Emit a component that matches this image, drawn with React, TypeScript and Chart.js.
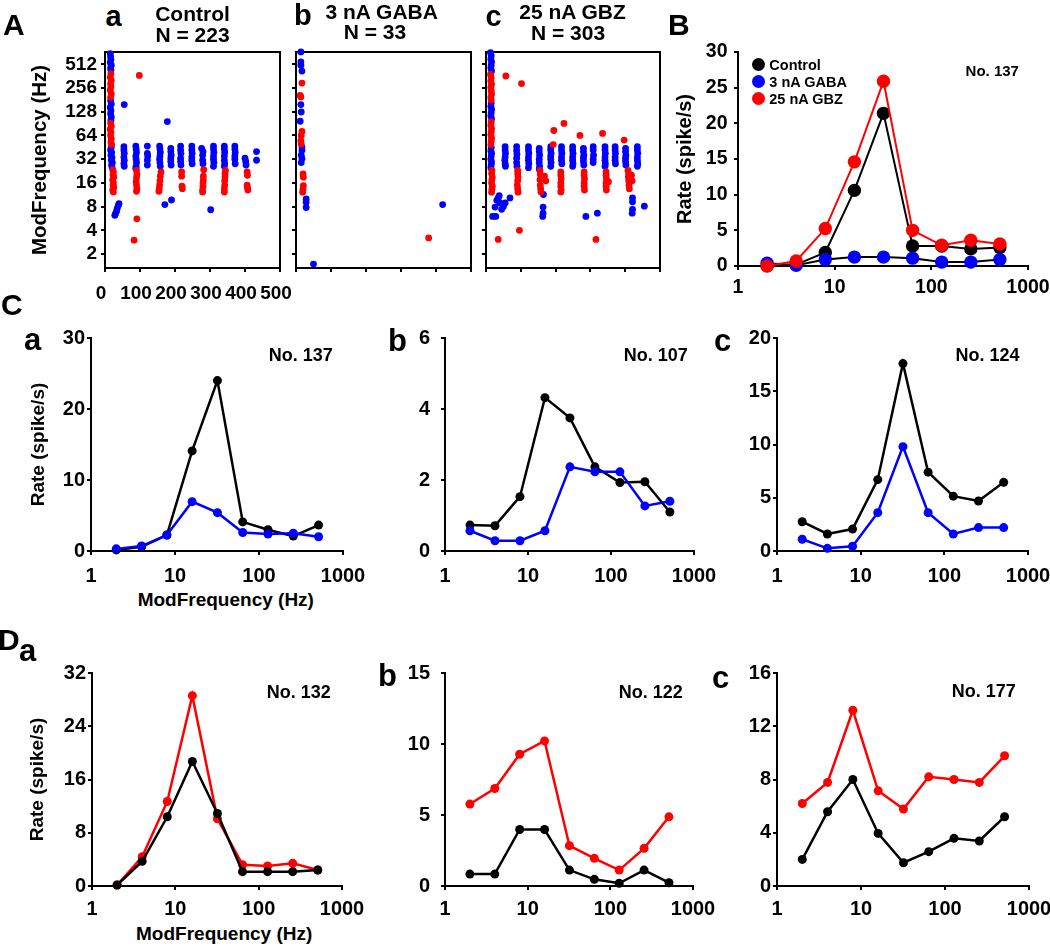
import React, { useEffect, useRef } from 'react';
import { Chart, registerables } from 'chart.js';

Chart.register(...registerables);

const FONT = '"Liberation Sans", Arial, Helvetica, sans-serif';
const BLUE = '#0000ff';
const RED = '#ff0000';
const BLACK = '#000000';

// ---------- data ----------
const modFreqs = [2, 4, 8, 16, 32, 64, 128, 256, 512];
const logFreqTicks = [1, 10, 100, 1000];
const modFreqTicksA = [2, 4, 8, 16, 32, 64, 128, 256, 512];
const unitTicksA = [0, 100, 200, 300, 400, 500];

// Panel B (No. 137)
const bControl = [0.05, 0.2, 1.9, 10.6, 21.4, 2.8, 2.8, 2.4, 2.6];
const bGaba = [0.4, 0.1, 0.9, 1.25, 1.25, 1.1, 0.55, 0.55, 0.9];
const bGbz = [0, 0.7, 5.25, 14.6, 25.9, 5.0, 2.9, 3.6, 3.1];

// Panel C
const caControl = [0.15, 0.6, 2.25, 14.1, 24.0, 4.1, 3.0, 2.1, 3.65];
const caGaba = [0.3, 0.7, 2.25, 6.95, 5.4, 2.6, 2.4, 2.5, 2.0];
const cbControl = [0.73, 0.71, 1.53, 4.32, 3.75, 2.37, 1.93, 1.95, 1.1];
const cbGaba = [0.57, 0.29, 0.29, 0.57, 2.37, 2.23, 2.23, 1.27, 1.4];
const ccControl = [2.75, 1.6, 2.06, 6.7, 17.6, 7.4, 5.15, 4.7, 6.45];
const ccGaba = [1.1, 0.25, 0.45, 3.6, 9.8, 3.6, 1.6, 2.2, 2.2];

// Panel D
const daControl = [0.15, 3.7, 10.4, 18.7, 10.9, 2.15, 2.15, 2.15, 2.4];
const daGbz = [0.15, 4.4, 12.7, 28.6, 10.1, 3.2, 3.0, 3.4, 2.4];
const dbControl = [0.84, 0.84, 3.98, 3.98, 1.12, 0.47, 0.19, 1.12, 0.23];
const dbGbz = [5.77, 6.87, 9.28, 10.22, 2.84, 1.95, 1.12, 2.65, 4.87];
const dcControl = [2.0, 5.58, 8.0, 3.95, 1.75, 2.58, 3.58, 3.38, 5.2];
const dcGbz = [6.2, 7.78, 13.2, 7.15, 5.78, 8.2, 8.0, 7.78, 9.78];

// Panel A scatter: [unit number, best ModFrequency (Hz)]
const aaBlue: [number, number][] = [
  [15, 700], [16, 640], [17, 590], [15, 540], [18, 500], [16, 460], [17, 430],
  [16, 178], [18, 160], [15, 145], [17, 132], [16, 120], [18, 110], [17, 100],
  [18, 45], [16, 42], [19, 39], [17, 36], [20, 33.5], [18, 31], [21, 29], [19, 27], [20, 25.5],
  [28, 6.2], [30, 6.5], [33, 7], [35, 7.6], [38, 8.3], [40, 8.7],
  [55, 158], [178, 96], [171, 8.5], [190, 9.7], [302, 7.3],
  [54, 46], [54, 42], [55, 38], [54, 34], [55, 31], [54, 28], [55, 26],
  [88, 47], [89, 43], [90, 39], [88, 35], [89, 32], [90, 29], [89, 26], [88, 24.5],
  [121, 47], [121, 38], [122, 35], [121, 31], [121, 27],
  [156, 47], [157, 43], [158, 39], [157, 35], [156, 32], [157, 29], [158, 26],
  [188, 44], [188, 40], [189, 36], [188, 33], [188, 30], [189, 27],
  [216, 47], [216, 42], [217, 38], [216, 33], [216, 30], [217, 27],
  [248, 47], [248, 42], [249, 38], [248, 34], [248, 31], [249, 28],
  [276, 44], [280, 40], [279, 36], [279, 31], [280, 28],
  [310, 47], [310, 43], [311, 39], [310, 35], [310, 32], [311, 29], [310, 26],
  [341, 47], [341, 43], [342, 39], [341, 35], [341, 31], [342, 28], [341, 26],
  [371, 47], [371, 43], [372, 39], [371, 35], [371, 32], [372, 28],
  [400, 33], [402, 30], [403, 27],
  [433, 40], [433, 31],
];
const aaRed: [number, number][] = [
  [17, 390], [15, 350], [18, 320], [16, 290], [17, 265], [15, 240], [18, 215], [16, 195],
  [16, 92], [18, 84], [15, 77], [17, 70], [16, 64], [18, 58], [17, 53], [19, 49],
  [22, 23.5], [24, 22], [23, 20.5], [25, 19], [22, 17.5], [24, 16], [23, 15], [25, 14], [22, 13], [24, 12.3],
  [98, 370], [91, 5.6], [83, 3.0],
  [90, 23], [91, 20.5], [90, 18.5], [89, 16.5], [90, 15], [91, 13.5], [90, 12.5],
  [160, 22], [158, 19.5], [157, 17], [156, 15], [155, 13.5], [154, 12.5],
  [219, 22], [219, 19.5], [220, 14.5], [221, 13.5],
  [282, 23.5], [281, 19.5], [281, 17.5], [280, 16], [280, 14.5], [279, 13], [279, 12.3],
  [344, 23], [343, 21], [343, 19], [342, 17], [342, 15], [341, 13.5], [341, 12.3],
  [406, 22], [407, 20], [406, 15], [407, 14], [408, 13],
];
const abBlue: [number, number][] = [
  [14, 735], [14, 550], [14, 500], [17, 420], [14, 158], [15, 127], [12, 97],
  [17, 45.6], [17, 41.5], [15, 36], [17, 32.5], [15, 29],
  [29, 10], [29, 9.1], [29, 7.8], [50, 1.49], [419, 8.5],
];
const abRed: [number, number][] = [
  [17, 296], [12, 207], [14, 197], [17, 72], [15, 64], [14, 55], [15, 50],
  [20, 20.8], [21, 18.9], [21, 14.8], [20, 13.4], [19, 12.2], [379, 3.2],
];
const acBlue: [number, number][] = [
  [13, 720], [15, 660], [14, 600], [16, 550], [15, 500], [14, 460], [16, 420],
  [15, 165], [14, 150], [16, 137], [15, 125], [14, 114], [16, 104],
  [15, 45], [14, 41], [16, 38], [15, 35], [14, 32], [16, 29.5], [15, 27], [14, 25],
  [19, 6.0], [28, 6.0], [26, 7.9], [31, 9.6], [35, 10.3], [38, 11], [40, 8.9], [45, 7.4], [50, 8], [55, 8.9], [69, 10.3],
  [165, 11.4], [164, 7.9], [164, 6.6], [163, 6.0], [287, 6.0], [320, 6.6],
  [421, 10.3], [421, 9.2], [421, 7.4], [420, 6.6], [455, 8.1],
  [55, 46], [55, 42], [56, 38], [55, 34], [54, 31], [55, 28], [56, 26],
  [88, 46], [88, 41], [89, 37], [88, 33], [88, 29], [89, 26],
  [122, 46], [122, 42], [123, 38], [122, 34], [122, 31], [123, 28], [122, 25],
  [153, 44], [153, 40], [154, 36], [153, 32], [153, 29], [154, 26], [153, 24],
  [186, 46], [186, 42], [187, 38], [186, 35], [186, 32], [187, 29], [186, 26],
  [217, 46], [217, 42], [218, 38], [217, 34], [217, 31], [218, 28],
  [249, 46], [249, 42], [250, 38], [249, 34], [249, 31], [250, 28], [249, 26],
  [280, 44], [280, 40], [281, 36], [280, 33], [280, 30], [281, 27],
  [308, 46], [308, 42], [309, 36], [308, 32], [308, 29],
  [342, 46], [342, 42], [343, 38], [342, 34], [342, 31], [343, 28], [342, 26],
  [371, 46], [371, 42], [372, 38], [371, 34], [371, 31], [372, 28],
  [401, 44], [401, 40], [402, 36], [401, 33], [401, 30], [402, 27],
  [435, 46], [435, 42], [436, 38], [435, 34], [435, 31], [436, 28], [435, 26],
];
const acRed: [number, number][] = [
  [13, 380], [15, 345], [14, 315], [16, 285], [14, 260], [15, 235], [16, 215], [14, 195], [15, 180],
  [15, 95], [14, 86], [16, 78], [15, 71], [14, 65], [16, 59], [15, 54], [14, 49],
  [17, 23], [16, 21], [18, 19], [17, 17.5], [16, 16], [18, 14.5], [17, 13.3], [16, 12.2],
  [57, 364], [102, 292], [195, 74], [224, 91], [270, 64], [335, 68], [397, 56], [193, 49],
  [35, 3.07], [96, 4.0], [316, 3.07],
  [91, 23], [91, 21], [92, 19], [91, 17], [90, 15], [91, 13.5], [92, 12.2],
  [155, 23], [156, 20.5], [160, 19], [168, 19.5], [172, 17], [155, 17.5], [156, 15], [157, 13.5], [158, 12.3],
  [215, 22], [215, 20], [216, 18], [215, 16], [215, 14.5], [216, 13], [215, 12.3],
  [282, 22], [282, 20], [283, 18], [282, 16], [282, 14.5], [283, 13],
  [345, 22], [345, 20], [346, 18], [352, 16.5], [345, 16], [345, 14.5], [346, 13],
  [408, 23], [410, 21], [418, 20], [409, 19], [420, 17], [410, 17], [411, 15], [412, 13.5],
];

// ---------- helpers ----------
type Area = { l: number; r: number; t: number; b: number };
type Pads = { padL: number; padB: number; padT: number; padR: number };

const fitY = (w: number) => (s: any) => {
  s.width = w;
  s.paddingTop = 0; s.paddingBottom = 0; s.paddingLeft = 0; s.paddingRight = 0;
};
const fitX = (h: number) => (s: any) => {
  s.height = h;
  s.paddingTop = 0; s.paddingBottom = 0; s.paddingLeft = 0; s.paddingRight = 0;
};
const fixTicks = (vals: number[]) => (s: any) => {
  s.ticks = vals.map((v) => ({ value: v }));
};

const axisBase = (size: number, pad: number, showLabels: boolean, labelOffset = 0) => ({
  grid: {
    display: true, drawOnChartArea: false, drawTicks: true, tickLength: 4,
    color: BLACK, lineWidth: 2, tickColor: BLACK, tickWidth: 2,
  },
  border: { display: true, color: BLACK, width: 2 },
  ticks: {
    color: BLACK, padding: pad, maxRotation: 0, minRotation: 0, autoSkip: false, labelOffset,
    font: { family: FONT, size, weight: 'bold' as const },
    callback: (v: any) => (showLabels ? String(v) : ''),
  },
});

const boxPlugin = {
  id: 'boxFrame',
  beforeDatasetsDraw(chart: any) {
    const { ctx, chartArea } = chart;
    ctx.save();
    ctx.strokeStyle = BLACK;
    ctx.lineWidth = 2;
    ctx.strokeRect(chartArea.left, chartArea.top, chartArea.right - chartArea.left, chartArea.bottom - chartArea.top);
    ctx.restore();
  },
};

function ChartCanvas({ area, pads, build }: { area: Area; pads: Pads; build: (p: Pads) => any }) {
  const ref = useRef<HTMLCanvasElement>(null);
  const W = area.r - area.l + pads.padL + pads.padR;
  const H = area.b - area.t + pads.padT + pads.padB;
  useEffect(() => {
    const chart = new Chart(ref.current as HTMLCanvasElement, build(pads));
    return () => chart.destroy();
  }, []);
  return (
    <canvas
      ref={ref}
      width={W}
      height={H}
      style={{ position: 'absolute', left: area.l - pads.padL, top: area.t - pads.padT, width: W, height: H }}
    />
  );
}

const baseOptions = (pads: Pads) => ({
  responsive: false,
  maintainAspectRatio: false,
  animation: false as const,
  devicePixelRatio: 1,
  events: [] as any[],
  layout: { autoPadding: false, padding: { left: 0, top: pads.padT, right: pads.padR, bottom: 0 } },
  plugins: { legend: { display: false }, tooltip: { enabled: false }, title: { display: false } },
});

// scatter (panel A)
function scatterBuild(blue: [number, number][], red: [number, number][], labels: boolean) {
  return (pads: Pads) => ({
    type: 'scatter',
    data: {
      datasets: [
        {
          data: red.map(([x, y]) => ({ x, y })), backgroundColor: RED, pointBackgroundColor: RED,
          pointBorderWidth: 0, pointRadius: 3.4, clip: false, order: 1,
        },
        {
          data: blue.map(([x, y]) => ({ x, y })), backgroundColor: BLUE, pointBackgroundColor: BLUE,
          pointBorderWidth: 0, pointRadius: 3.4, clip: false, order: 2,
        },
      ],
    },
    options: {
      ...baseOptions(pads),
      scales: {
        x: {
          ...axisBase(19, 10.5, labels, -4), type: 'linear', min: 0, max: 500,
          afterBuildTicks: fixTicks(unitTicksA), afterFit: fitX(pads.padB),
        },
        y: {
          ...axisBase(19, 4, labels), type: 'logarithmic', min: 1.33, max: 734, bounds: 'data',
          afterBuildTicks: fixTicks(modFreqTicksA), afterFit: fitY(pads.padL),
          title: labels
            ? { display: true, text: 'ModFrequency (Hz)', color: BLACK, font: { family: FONT, size: 20.5, weight: 'bold' }, padding: { top: 27.7, bottom: 0 } }
            : { display: false },
        },
      },
    },
    plugins: [boxPlugin],
  });
}

type Series = { values: number[]; line: string; point: string; order: number };

function lineBuild(o: {
  series: Series[]; yMax: number; yStep: number; radius: number; width: number; tickSize: number;
  yTickPad: number; xTickPad: number; yTitle?: { size: number; pad: number };
}) {
  return (pads: Pads) => ({
    type: 'line',
    data: {
      datasets: o.series.map((s) => ({
        data: modFreqs.map((f, i) => ({ x: f, y: s.values[i] })),
        borderColor: s.line, backgroundColor: s.point, pointBackgroundColor: s.point,
        pointBorderColor: s.point, pointBorderWidth: 0, pointRadius: o.radius,
        borderWidth: o.width, tension: 0, clip: false, order: s.order, fill: false,
      })),
    },
    options: {
      ...baseOptions(pads),
      scales: {
        x: {
          ...axisBase(o.tickSize, o.xTickPad, true), type: 'logarithmic', min: 1, max: 1000, bounds: 'data',
          afterBuildTicks: fixTicks(logFreqTicks), afterFit: fitX(pads.padB),
        },
        y: {
          ...axisBase(o.tickSize, o.yTickPad, true), type: 'linear', min: 0, max: o.yMax,
          ticks: { ...axisBase(o.tickSize, o.yTickPad, true).ticks, stepSize: o.yStep },
          afterFit: fitY(pads.padL),
          title: o.yTitle
            ? { display: true, text: 'Rate (spike/s)', color: BLACK, font: { family: FONT, size: o.yTitle.size, weight: 'bold' }, padding: { top: o.yTitle.pad, bottom: 0 } }
            : { display: false },
        },
      },
    },
  });
}

function Txt({ x, y, size, text, center }: { x: number; y: number; size: number; text: string; center?: boolean }) {
  return (
    <div
      style={{
        position: 'absolute', left: x, top: y - 0.8465 * size, fontSize: size, lineHeight: `${size}px`,
        fontFamily: FONT, fontWeight: 'bold', whiteSpace: 'nowrap', color: BLACK,
        transform: center ? 'translateX(-50%)' : undefined,
      }}
    >
      {text}
    </div>
  );
}

function Dot({ x, y, r, color }: { x: number; y: number; r: number; color: string }) {
  return (
    <div style={{ position: 'absolute', left: x - r, top: y - r, width: 2 * r, height: 2 * r, borderRadius: '50%', background: color }} />
  );
}

// ---------- layout ----------
const padsAa: Pads = { padL: 105, padB: 40, padT: 12, padR: 22 };
const padsAbc: Pads = { padL: 12, padB: 40, padT: 12, padR: 22 };
const padsB: Pads = { padL: 76, padB: 35, padT: 12, padR: 22 };
const padsCa: Pads = { padL: 91, padB: 35, padT: 12, padR: 22 };
const padsDa: Pads = { padL: 92, padB: 35, padT: 12, padR: 22 };
const padsBC: Pads = { padL: 60, padB: 35, padT: 12, padR: 22 };

export default function App() {
  return (
    <div style={{ position: 'absolute', left: 0, top: 0, width: 1050, height: 947, background: '#fff', overflow: 'hidden' }}>
      {/* Panel A */}
      <ChartCanvas area={{ l: 105, r: 280, t: 52, b: 268 }} pads={padsAa} build={scatterBuild(aaBlue, aaRed, true)} />
      <ChartCanvas area={{ l: 296, r: 471, t: 52, b: 268 }} pads={padsAbc} build={scatterBuild(abBlue, abRed, false)} />
      <ChartCanvas area={{ l: 486, r: 660, t: 52, b: 268 }} pads={padsAbc} build={scatterBuild(acBlue, acRed, false)} />

      {/* Panel B */}
      <ChartCanvas
        area={{ l: 738, r: 1028, t: 52, b: 266 }}
        pads={padsB}
        build={lineBuild({
          series: [
            { values: bGbz, line: RED, point: RED, order: 1 },
            { values: bGaba, line: BLACK, point: BLUE, order: 2 },
            { values: bControl, line: BLACK, point: BLACK, order: 3 },
          ],
          yMax: 30, yStep: 5, radius: 6.7, width: 2, tickSize: 19.5, yTickPad: 6.5, xTickPad: 5.5,
          yTitle: { size: 20, pad: 11 },
        })}
      />

      {/* Panel C */}
      <ChartCanvas
        area={{ l: 91, r: 343, t: 338, b: 551 }}
        pads={padsCa}
        build={lineBuild({
          series: [
            { values: caGaba, line: BLUE, point: BLUE, order: 1 },
            { values: caControl, line: BLACK, point: BLACK, order: 2 },
          ],
          yMax: 30, yStep: 10, radius: 4.5, width: 2.5, tickSize: 20, yTickPad: 2, xTickPad: 9.5,
          yTitle: { size: 19, pad: 27.6 },
        })}
      />
      <ChartCanvas
        area={{ l: 445, r: 694, t: 338, b: 551 }}
        pads={padsBC}
        build={lineBuild({
          series: [
            { values: cbGaba, line: BLUE, point: BLUE, order: 1 },
            { values: cbControl, line: BLACK, point: BLACK, order: 2 },
          ],
          yMax: 6, yStep: 2, radius: 4.5, width: 2.5, tickSize: 20, yTickPad: 11, xTickPad: 9.5,
        })}
      />
      <ChartCanvas
        area={{ l: 777, r: 1028, t: 338, b: 551 }}
        pads={padsBC}
        build={lineBuild({
          series: [
            { values: ccGaba, line: BLUE, point: BLUE, order: 1 },
            { values: ccControl, line: BLACK, point: BLACK, order: 2 },
          ],
          yMax: 20, yStep: 5, radius: 4.5, width: 2.5, tickSize: 20, yTickPad: 2, xTickPad: 9.5,
        })}
      />

      {/* Panel D */}
      <ChartCanvas
        area={{ l: 92, r: 342, t: 673, b: 886 }}
        pads={padsDa}
        build={lineBuild({
          series: [
            { values: daControl, line: BLACK, point: BLACK, order: 1 },
            { values: daGbz, line: RED, point: RED, order: 2 },
          ],
          yMax: 32, yStep: 8, radius: 4.5, width: 2.5, tickSize: 20, yTickPad: 2, xTickPad: 7.7,
          yTitle: { size: 19, pad: 26.1 },
        })}
      />
      <ChartCanvas
        area={{ l: 445, r: 693, t: 673, b: 886 }}
        pads={padsBC}
        build={lineBuild({
          series: [
            { values: dbControl, line: BLACK, point: BLACK, order: 1 },
            { values: dbGbz, line: RED, point: RED, order: 2 },
          ],
          yMax: 15, yStep: 5, radius: 4.5, width: 2.5, tickSize: 20, yTickPad: 11, xTickPad: 7.7,
        })}
      />
      <ChartCanvas
        area={{ l: 777, r: 1029, t: 673, b: 886 }}
        pads={padsBC}
        build={lineBuild({
          series: [
            { values: dcControl, line: BLACK, point: BLACK, order: 1 },
            { values: dcGbz, line: RED, point: RED, order: 2 },
          ],
          yMax: 16, yStep: 4, radius: 4.5, width: 2.5, tickSize: 20, yTickPad: 2, xTickPad: 7.7,
        })}
      />

      {/* panel letters */}
      <Txt x={3} y={35} size={30} text="A" />
      <Txt x={668} y={35} size={30} text="B" />
      <Txt x={1} y={315} size={30} text="C" />
      <Txt x={-2} y={650} size={30} text="D" />
      <Txt x={105.5} y={26.7} size={29} text="a" />
      <Txt x={294} y={25.5} size={29} text="b" />
      <Txt x={485.5} y={26.7} size={29} text="c" />
      <Txt x={24} y={350} size={31} text="a" />
      <Txt x={388} y={351.7} size={31} text="b" />
      <Txt x={714} y={351.7} size={31} text="c" />
      <Txt x={19} y={661.7} size={31} text="a" />
      <Txt x={378} y={686.7} size={31} text="b" />
      <Txt x={712} y={688.3} size={31} text="c" />

      {/* panel A titles */}
      <Txt x={192.5} y={20.7} size={21} text="Control" center />
      <Txt x={192.5} y={41.7} size={21} text="N = 223" center />
      <Txt x={381.7} y={18.3} size={21} text="3 nA GABA" center />
      <Txt x={375} y={39} size={21} text="N = 33" center />
      <Txt x={572.5} y={18.3} size={21} text="25 nA GBZ" center />
      <Txt x={568} y={40} size={21} text="N = 303" center />

      {/* panel B legend and unit */}
      <Dot x={758.3} y={64} r={6.5} color={BLACK} />
      <Dot x={758.3} y={81} r={6.5} color={BLUE} />
      <Dot x={758.3} y={98.3} r={6.5} color={RED} />
      <Txt x={769.3} y={70} size={14.5} text="Control" />
      <Txt x={769.3} y={87} size={14.5} text="3 nA GABA" />
      <Txt x={769.3} y={104.3} size={14.5} text="25 nA GBZ" />
      <Txt x={965.6} y={76} size={15} text="No. 137" />

      {/* unit numbers */}
      <Txt x={268.7} y={361.7} size={18} text="No. 137" />
      <Txt x={623.7} y={361.7} size={18} text="No. 107" />
      <Txt x={955.4} y={361.7} size={18} text="No. 124" />
      <Txt x={266.7} y={698} size={18} text="No. 132" />
      <Txt x={618.7} y={698} size={18} text="No. 122" />
      <Txt x={951.7} y={697} size={18} text="No. 177" />

      {/* x axis titles */}
      <Txt x={225.8} y={606.5} size={19} text="ModFrequency (Hz)" center />
      <Txt x={224.2} y={940.5} size={19} text="ModFrequency (Hz)" center />
    </div>
  );
}
